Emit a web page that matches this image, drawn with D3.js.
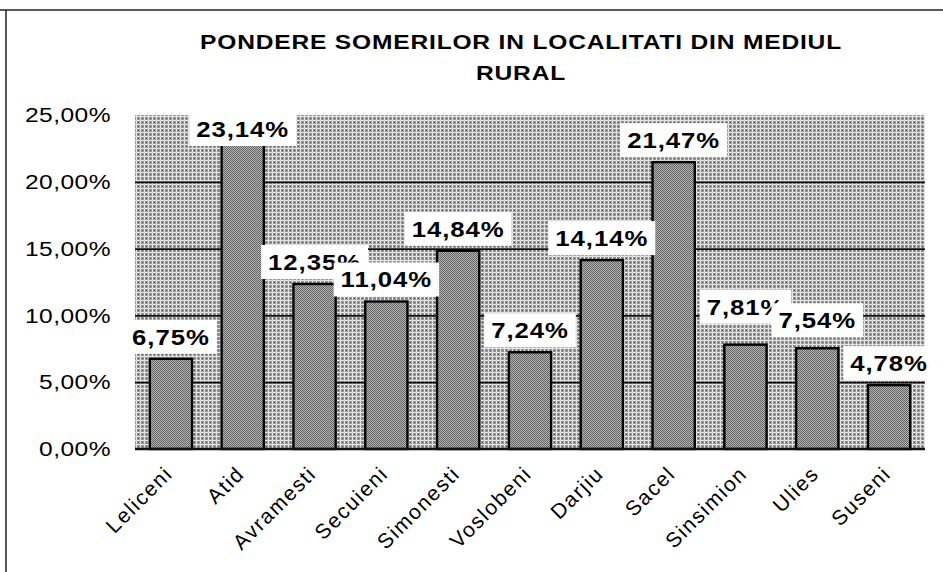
<!DOCTYPE html>
<html>
<head>
<meta charset="utf-8">
<script src="https://cdn.jsdelivr.net/npm/d3@7/dist/d3.min.js"></script>
<style>
  body { margin: 0; background: #fff; }
  svg { display: block; }
  text { font-family: "Liberation Sans", Arial, sans-serif; fill: #000; }
</style>
</head>
<body>
<svg id="chart" width="943" height="572"></svg>
<script>
const categories = ['Leliceni', 'Atid', 'Avramesti', 'Secuieni', 'Simonesti', 'Voslobeni',
  'Darjiu', 'Sacel', 'Sinsimion', 'Ulies', 'Suseni']
const values = [6.75, 23.14, 12.35, 11.04, 14.84, 7.24, 14.14, 21.47, 7.81, 7.54, 4.78]
const yTicks = [0, 5, 10, 15, 20, 25]
const titleLines = ['PONDERE SOMERILOR IN LOCALITATI DIN MEDIUL', 'RURAL']

// labels that were dragged up by hand in the original
const labelNudge = {Sinsimion: -16, Ulies: -6}

const width = 943, height = 572
const plot = {left: 135, right: 925, top: 115, bottom: 449}
const stretch = 1.17   // the scan is wider than it is tall

const svg = d3.select('#chart')
const fmt = v => d3.format('.2f')(v).replace('.', ',') + '%'

// stipple fills like the scanned print
const defs = svg.append('defs')
let bgPat = defs.append('pattern')
    .attr('id', 'bgPat')
    .attr('width', 4).attr('height', 4)
    .attr('patternUnits', 'userSpaceOnUse')
bgPat.append('rect').attr('width', 4).attr('height', 4).attr('fill', '#999')
bgPat.append('rect').attr('width', 4).attr('height', 1).attr('fill', '#e2e2e2')
bgPat.append('rect').attr('width', 1).attr('height', 4).attr('fill', '#e2e2e2')
bgPat.append('rect').attr('x', 2).attr('y', 2).attr('width', 1).attr('height', 1).attr('fill', '#555')

let barPat = defs.append('pattern')
    .attr('id', 'barPat')
    .attr('width', 2).attr('height', 2)
    .attr('patternUnits', 'userSpaceOnUse')
barPat.append('rect').attr('width', 2).attr('height', 2).attr('fill', '#b2b2b2')
barPat.append('rect').attr('width', 1).attr('height', 1).attr('fill', '#666')
barPat.append('rect').attr('x', 1).attr('y', 1).attr('width', 1).attr('height', 1).attr('fill', '#666')

// outer frame (top and left edges survive in the scan)
svg.append('line')
    .attr('x1', 0).attr('x2', width).attr('y1', 10).attr('y2', 10)
    .attr('stroke', '#222').attr('stroke-width', 1.5)
svg.append('line')
    .attr('x1', 6).attr('x2', 6).attr('y1', 10).attr('y2', height)
    .attr('stroke', '#222').attr('stroke-width', 1.5)

// title
svg.append('g')
    .selectAll('text')
    .data(titleLines)
    .join('text')
        .attr('transform', (d, i) => 'translate(521,' + (49 + i * 31) + ') scale(' + stretch + ',1)')
        .attr('text-anchor', 'middle')
        .attr('font-size', 21)
        .attr('font-weight', 'bold')
        .attr('letter-spacing', 0.7)
        .text(d => d)

const x = d3.scaleBand()
    .domain(categories)
    .range([plot.left, plot.right])
    .paddingInner(0.7 / 1.7)
    .paddingOuter(0.35 / 1.7)

const y = d3.scaleLinear()
    .domain([0, 25])
    .range([plot.bottom, plot.top])

// plot background
svg.append('rect')
    .attr('x', plot.left)
    .attr('y', plot.top)
    .attr('width', plot.right - plot.left)
    .attr('height', plot.bottom - plot.top)
    .attr('fill', 'url(#bgPat)')

// gridlines
svg.append('g')
    .attr('transform', 'translate(' + plot.left + ',0)')
    .call(d3.axisLeft(y).tickValues(yTicks.filter(t => t > 0 && t < 25))
        .tickSize(-(plot.right - plot.left)).tickFormat(''))
    .call(g => g.select('.domain').remove())
    .call(g => g.selectAll('line').attr('stroke', '#111').attr('stroke-width', 1.8))

// y labels
svg.append('g')
    .attr('transform', 'translate(' + (plot.left - 24) + ',0)')
    .call(d3.axisLeft(y).tickValues(yTicks).tickSize(0).tickPadding(0)
        .tickFormat(d => d3.format('.2f')(d).replace('.', ',') + '%'))
    .call(g => g.select('.domain').remove())
    .call(g => g.selectAll('text')
        .attr('x', 0)
        .attr('transform', 'scale(' + stretch + ',1)')
        .attr('font-family', '"Liberation Sans", Arial, sans-serif')
        .attr('font-size', 21)
        .attr('letter-spacing', 0.4)
        .attr('fill', '#000'))

// bars
svg.append('g')
    .selectAll('rect')
    .data(values)
    .join('rect')
        .attr('x', (d, i) => x(categories[i]))
        .attr('y', d => y(d))
        .attr('width', x.bandwidth())
        .attr('height', d => y(0) - y(d))
        .attr('fill', 'url(#barPat)')
        .attr('stroke', '#000')
        .attr('stroke-width', 2.4)

// x axis line
svg.append('line')
    .attr('x1', plot.left).attr('x2', plot.right)
    .attr('y1', y(0)).attr('y2', y(0))
    .attr('stroke', '#111').attr('stroke-width', 2.5)

// x labels, rotated
svg.append('g')
    .attr('transform', 'translate(0,' + y(0) + ')')
    .call(d3.axisBottom(x).tickSize(0).tickPadding(0))
    .call(g => g.select('.domain').remove())
    .call(g => g.selectAll('.tick text')
        .attr('font-family', '"Liberation Sans", Arial, sans-serif')
        .attr('font-size', 21)
        .attr('letter-spacing', 1.6)
        .attr('fill', '#000')
        .attr('text-anchor', 'end')
        .attr('dy', 0)
        .attr('y', 0)
        .attr('transform', 'translate(3,26) rotate(-45)'))

// value labels on white boxes
const lab = svg.append('g')
values.forEach((v, i) => {
    let cx = x(categories[i]) + x.bandwidth() / 2
    let cy = Math.max(y(v) - 22, plot.top + 14) + (labelNudge[categories[i]] || 0)
    let g = lab.append('g')
    let box = g.append('rect').attr('fill', '#fff')
    let t = g.append('text')
        .attr('transform', 'translate(' + cx + ',' + cy + ') scale(' + stretch + ',1)')
        .attr('dy', '0.36em')
        .attr('text-anchor', 'middle')
        .attr('font-size', 22)
        .attr('font-weight', 'bold')
        .attr('letter-spacing', 0.8)
        .text(fmt(v))
    let w = t.node().getComputedTextLength() * stretch
    box.attr('x', cx - w / 2 - 7)
        .attr('y', cy - 17)
        .attr('width', w + 14)
        .attr('height', 34)
})
</script>
</body>
</html>
